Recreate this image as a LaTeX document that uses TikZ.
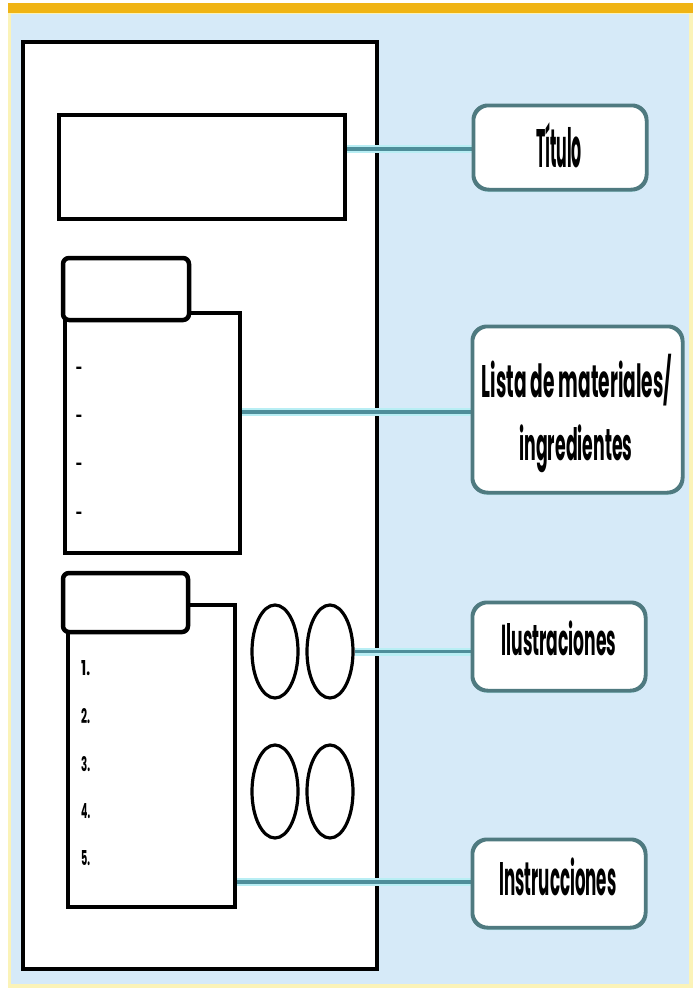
\documentclass[tikz,border=0pt]{standalone}
\usepackage{fontspec}
\usepackage{graphicx}
\usetikzlibrary{shapes.geometric}
\newfontfamily\pfont{Poppins}
\newfontfamily\dfont{Liberation Sans}
\definecolor{goldc}{HTML}{F0B414}
\definecolor{paleyel}{HTML}{FBF3B8}
\definecolor{bgblue}{HTML}{D6EAF8}
\definecolor{pillc}{HTML}{4F7A80}
\definecolor{linec}{HTML}{4E8E9A}
\definecolor{glowc}{HTML}{B8EEF4}
\newcommand{\fitlbl}[4]{\resizebox{#1}{#2}{\smash{#4}\vphantom{#3}}}
\tikzset{
  paperbox/.style={draw=black, line width=3.5pt, fill=white, inner sep=0pt},
  blackbox/.style={draw=black, line width=3.5pt, fill=white, inner sep=0pt},
  tabbox/.style={draw=black, line width=4.5pt, fill=white, rounded corners=6pt, inner sep=0pt},
  oval/.style={draw=black, line width=3.2pt, ellipse, inner sep=0pt, minimum width=46pt, minimum height=93pt},
  pill/.style={draw=pillc, line width=2.5pt, fill=white, rounded corners=15pt, inner sep=0pt},
  pillglow/.style={fill=glowc, rounded corners=15pt},
  lbl/.style={inner sep=0pt, anchor=base, font=\pfont\bfseries},
  numlbl/.style={inner sep=0pt, anchor=base west, font=\pfont\bfseries},
  dashlbl/.style={inner sep=0pt, anchor=base, font=\dfont\bfseries\fontsize{20}{20}\selectfont},
  glowline/.style={glowc, line width=8pt},
  conn/.style={linec, line width=3.5pt}
}
\begin{document}
\begin{tikzpicture}[x=1pt,y=-1pt]
\useasboundingbox (0,0) rectangle (693,988);
% background frame
\fill[white] (0,0) rectangle (693,988);
\fill[paleyel] (8,3) rectangle (693,988);
\fill[goldc] (8,3) rectangle (693,13);
\fill[bgblue] (11,14) rectangle (689,984);
% paper
\node[paperbox, minimum width=354pt, minimum height=927pt] (paper) at (200,505.5) {};
% title box
\node[blackbox, minimum width=286pt, minimum height=104pt] (titlebox) at (202,167) {};
% list box and tab
\node[blackbox, minimum width=175pt, minimum height=240pt] (listbox) at (152.5,433) {};
\node[tabbox, minimum width=126pt, minimum height=62pt] (listtab) at (126,289) {};
\node[dashlbl] (d1) at (79,373) {-};
\node[dashlbl] (d2) at (79,421) {-};
\node[dashlbl] (d3) at (79,469) {-};
\node[dashlbl] (d4) at (79,518) {-};
% instructions box and tab
\node[blackbox, minimum width=167pt, minimum height=302pt] (instbox) at (151.5,756) {};
\node[tabbox, minimum width=125pt, minimum height=59pt] (insttab) at (125.5,602.5) {};
\node[numlbl] (n1) at (81,675) {\resizebox{9pt}{15pt}{1.}};
\node[numlbl] (n2) at (81,723) {\resizebox{9pt}{15pt}{2.}};
\node[numlbl] (n3) at (81,771) {\resizebox{9pt}{15pt}{3.}};
\node[numlbl] (n4) at (81,818) {\resizebox{9pt}{15pt}{4.}};
\node[numlbl] (n5) at (81,865) {\resizebox{9pt}{15pt}{5.}};
% ovals
\node[oval] (e1) at (275,651.5) {};
\node[oval] (e2) at (330,651.5) {};
\node[oval] (e3) at (275,791.5) {};
\node[oval] (e4) at (330,791.5) {};
% pill glows
\fill[pillglow] (474,109) rectangle (646,192);
\fill[pillglow] (473,330) rectangle (682,495);
\fill[pillglow] (473,606) rectangle (645,693);
\fill[pillglow] (473,843) rectangle (645,930);
% pills
\node[pill, minimum width=172pt, minimum height=83pt] (ptitulo) at (560,147.5) {};
\node[pill, minimum width=209pt, minimum height=165pt] (plista) at (577.5,409.5) {};
\node[pill, minimum width=172pt, minimum height=87pt] (pilus) at (559,646.5) {};
\node[pill, minimum width=172pt, minimum height=87pt] (pinst) at (559,883.5) {};
% labels
\node[lbl] (ttitulo) at (559,167) {\fitlbl{46pt}{38pt}{T}{Título}};
\node[lbl] (tlistaA) at (577,397) {\fitlbl{190pt}{32pt}{L}{Lista de materiales/}};
\node[lbl] (tlistaB) at (576,460) {\fitlbl{113pt}{33pt}{d}{ingredientes}};
\node[lbl] (tilus) at (559,655) {\fitlbl{115pt}{32pt}{l}{Ilustraciones}};
\node[lbl] (tinst) at (558,895) {\fitlbl{117pt}{33pt}{I}{Instrucciones}};
% connectors
\draw[glowline] (titlebox.east |- 0,149) -- (ptitulo.west |- 0,149);
\draw[conn] (titlebox.east |- 0,149) -- (ptitulo.west |- 0,149);
\draw[glowline] (listbox.east |- 0,412) -- (plista.west |- 0,412);
\draw[conn] (listbox.east |- 0,412) -- (plista.west |- 0,412);
\draw[glowline] (e2.east) -- (e2.east -| pilus.west);
\draw[conn] (e2.east) -- (e2.east -| pilus.west);
\draw[glowline] (instbox.east |- 0,882) -- (pinst.west |- 0,882);
\draw[conn] (instbox.east |- 0,882) -- (pinst.west |- 0,882);
% redraw pill borders over line ends
\draw[pillc, line width=2.5pt, rounded corners=15pt] (ptitulo.south west) rectangle (ptitulo.north east);
\draw[pillc, line width=2.5pt, rounded corners=15pt] (plista.south west) rectangle (plista.north east);
\draw[pillc, line width=2.5pt, rounded corners=15pt] (pilus.south west) rectangle (pilus.north east);
\draw[pillc, line width=2.5pt, rounded corners=15pt] (pinst.south west) rectangle (pinst.north east);
\end{tikzpicture}
\end{document}
